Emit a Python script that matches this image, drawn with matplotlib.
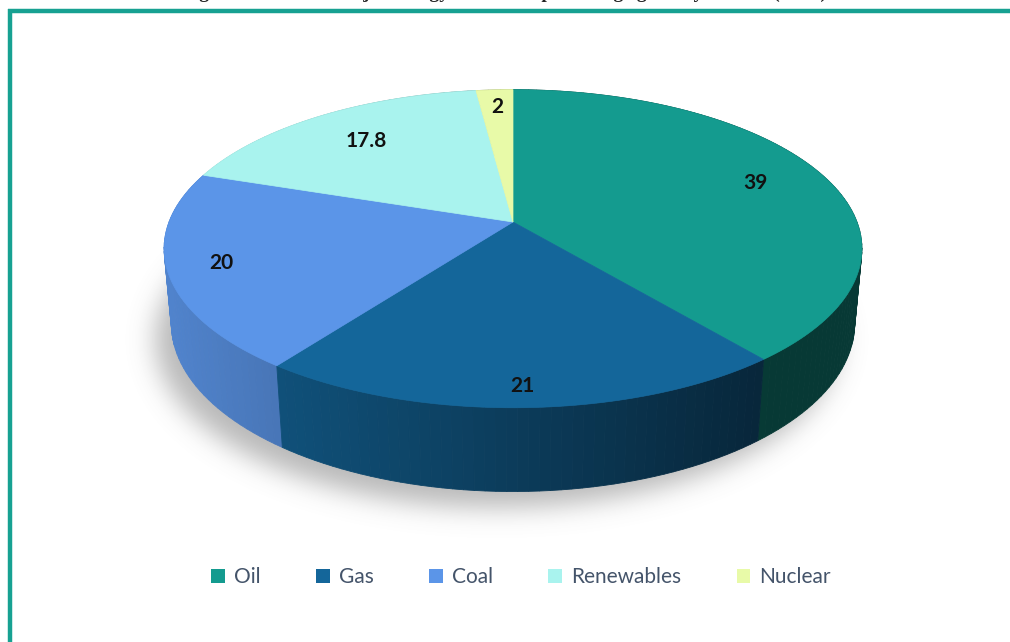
import numpy as np
import matplotlib.pyplot as plt
from matplotlib.patches import Polygon, Patch
from matplotlib.path import Path

# data
labels = ["Oil", "Gas", "Coal", "Renewables", "Nuclear"]
shares = [39, 21, 20, 17.8, 2]
value_text = ["39", "21", "20", "17.8", "2"]
top_colors = ["#149B8F", "#14669A", "#5B95E8", "#A9F3EE", "#E8FAA8"]
title = "Figure 1: Share of major energy sources in percentage globally in 2019 (in %)"

W, H = 1010, 642
fig = plt.figure(figsize=(W / 100, H / 100), dpi=100)
ax = fig.add_axes([0, 0, 1, 1])
ax.set_xlim(0, W)
ax.set_ylim(H, 0)
ax.axis("off")

# simple perspective camera for the 3d pie
cx, cy = 513, 222
tilt = np.radians(26.7)
dist = 5.32
foc = 1830
depth = 0.245
s_t, c_t = np.sin(tilt), np.cos(tilt)


def proj(X, Z, Y=0.0):
    yc = Y * c_t + Z * s_t
    zc = -Y * s_t + Z * c_t
    k = foc / (dist + zc)
    return cx + X * k, cy - yc * k, zc


def darker(col, f):
    rgb = np.array(plt.matplotlib.colors.to_rgb(col))
    return tuple(np.clip(rgb * f, 0, 1))


frac = np.array(shares) / np.sum(shares)
edges = np.concatenate([[0], np.cumsum(frac)]) * 2 * np.pi

# shadow under the pie
tt = np.linspace(0, 2 * np.pi, 400)
bx, by, _ = proj(np.sin(tt), np.cos(tt), -depth)
bx = bx - 16
by = by + 16
gx, gy = np.meshgrid(np.arange(W) + 0.5, np.arange(H) + 0.5)
mask = Path(np.column_stack([bx, by])).contains_points(
    np.column_stack([gx.ravel(), gy.ravel()])).reshape(H, W).astype(float)
sig = 13
kx = np.arange(-3 * sig, 3 * sig + 1)
kern = np.exp(-kx ** 2 / (2 * sig ** 2))
kern /= kern.sum()
blur = np.apply_along_axis(lambda r: np.convolve(r, kern, mode="same"), 1, mask)
blur = np.apply_along_axis(lambda r: np.convolve(r, kern, mode="same"), 0, blur)
shadow = np.zeros((H, W, 4))
shadow[..., :3] = 0.45
shadow[..., 3] = blur * 0.5
ax.imshow(shadow, extent=(0, W, H, 0), zorder=1, interpolation="bilinear")

# side wall
quads = []
for i in range(len(shares)):
    ts = np.linspace(edges[i], edges[i + 1], max(3, int(frac[i] * 240)))
    for a, b in zip(ts[:-1], ts[1:]):
        x1, y1, z1 = proj(np.sin(a), np.cos(a))
        x2, y2, z2 = proj(np.sin(b), np.cos(b))
        x3, y3, _ = proj(np.sin(b), np.cos(b), -depth)
        x4, y4, _ = proj(np.sin(a), np.cos(a), -depth)
        xm = (x1 + x2) / 2
        f = 0.88 - (xm - 170) / (760 - 170) * 0.5
        f = min(max(f, 0.37), 0.89)
        if i == 0:
            f = min(f, 0.42)
        quads.append(((z1 + z2) / 2, [(x1, y1), (x2, y2), (x3, y3), (x4, y4)],
                      darker(top_colors[i], f)))
quads.sort(key=lambda q: -q[0])
for _, pts, col in quads:
    ax.add_patch(Polygon(pts, closed=True, facecolor=col, edgecolor=col,
                         lw=0.6, zorder=2))

# top faces
for i in range(len(shares)):
    ts = np.linspace(edges[i], edges[i + 1], max(4, int(frac[i] * 300)))
    px, py, _ = proj(np.sin(ts), np.cos(ts))
    pts = [(cx, cy)] + list(zip(px, py))
    ax.add_patch(Polygon(pts, closed=True, facecolor=top_colors[i],
                         edgecolor=top_colors[i], lw=0.5, zorder=3))

# value labels
lab_r = [0.78, 0.9, 0.85, 0.74, 0.85]
for i in range(len(shares)):
    m = (edges[i] + edges[i + 1]) / 2
    lx, ly, _ = proj(lab_r[i] * np.sin(m), lab_r[i] * np.cos(m))
    ax.text(lx, ly, value_text[i], ha="center", va="center", fontsize=15,
            fontweight="bold", family="Lato", color="#111111", zorder=5)

# frame
ax.plot([8, W], [11, 11], color="#17A192", lw=3.2, solid_capstyle="butt", zorder=6)
ax.plot([10, 10], [9, H], color="#17A192", lw=3.2, solid_capstyle="butt", zorder=6)

# caption of the page, almost entirely above the crop
fig.text(0.5, 1 + 2.5 / H, title, ha="center", va="baseline", fontsize=14,
         fontweight="bold", family="Liberation Serif", color="#222222")

handles = [Patch(facecolor=c, edgecolor="none") for c in top_colors]
fig.legend(handles=handles, labels=labels, ncol=5, loc="center",
           bbox_to_anchor=(0.516, 1 - 577 / H), frameon=False,
           prop={"family": "Lato", "size": 15},
           handlelength=0.65, handleheight=0.65, handletextpad=0.45,
           columnspacing=2.65, labelcolor="#44546A")

fig.savefig("out.png", dpi=100)
